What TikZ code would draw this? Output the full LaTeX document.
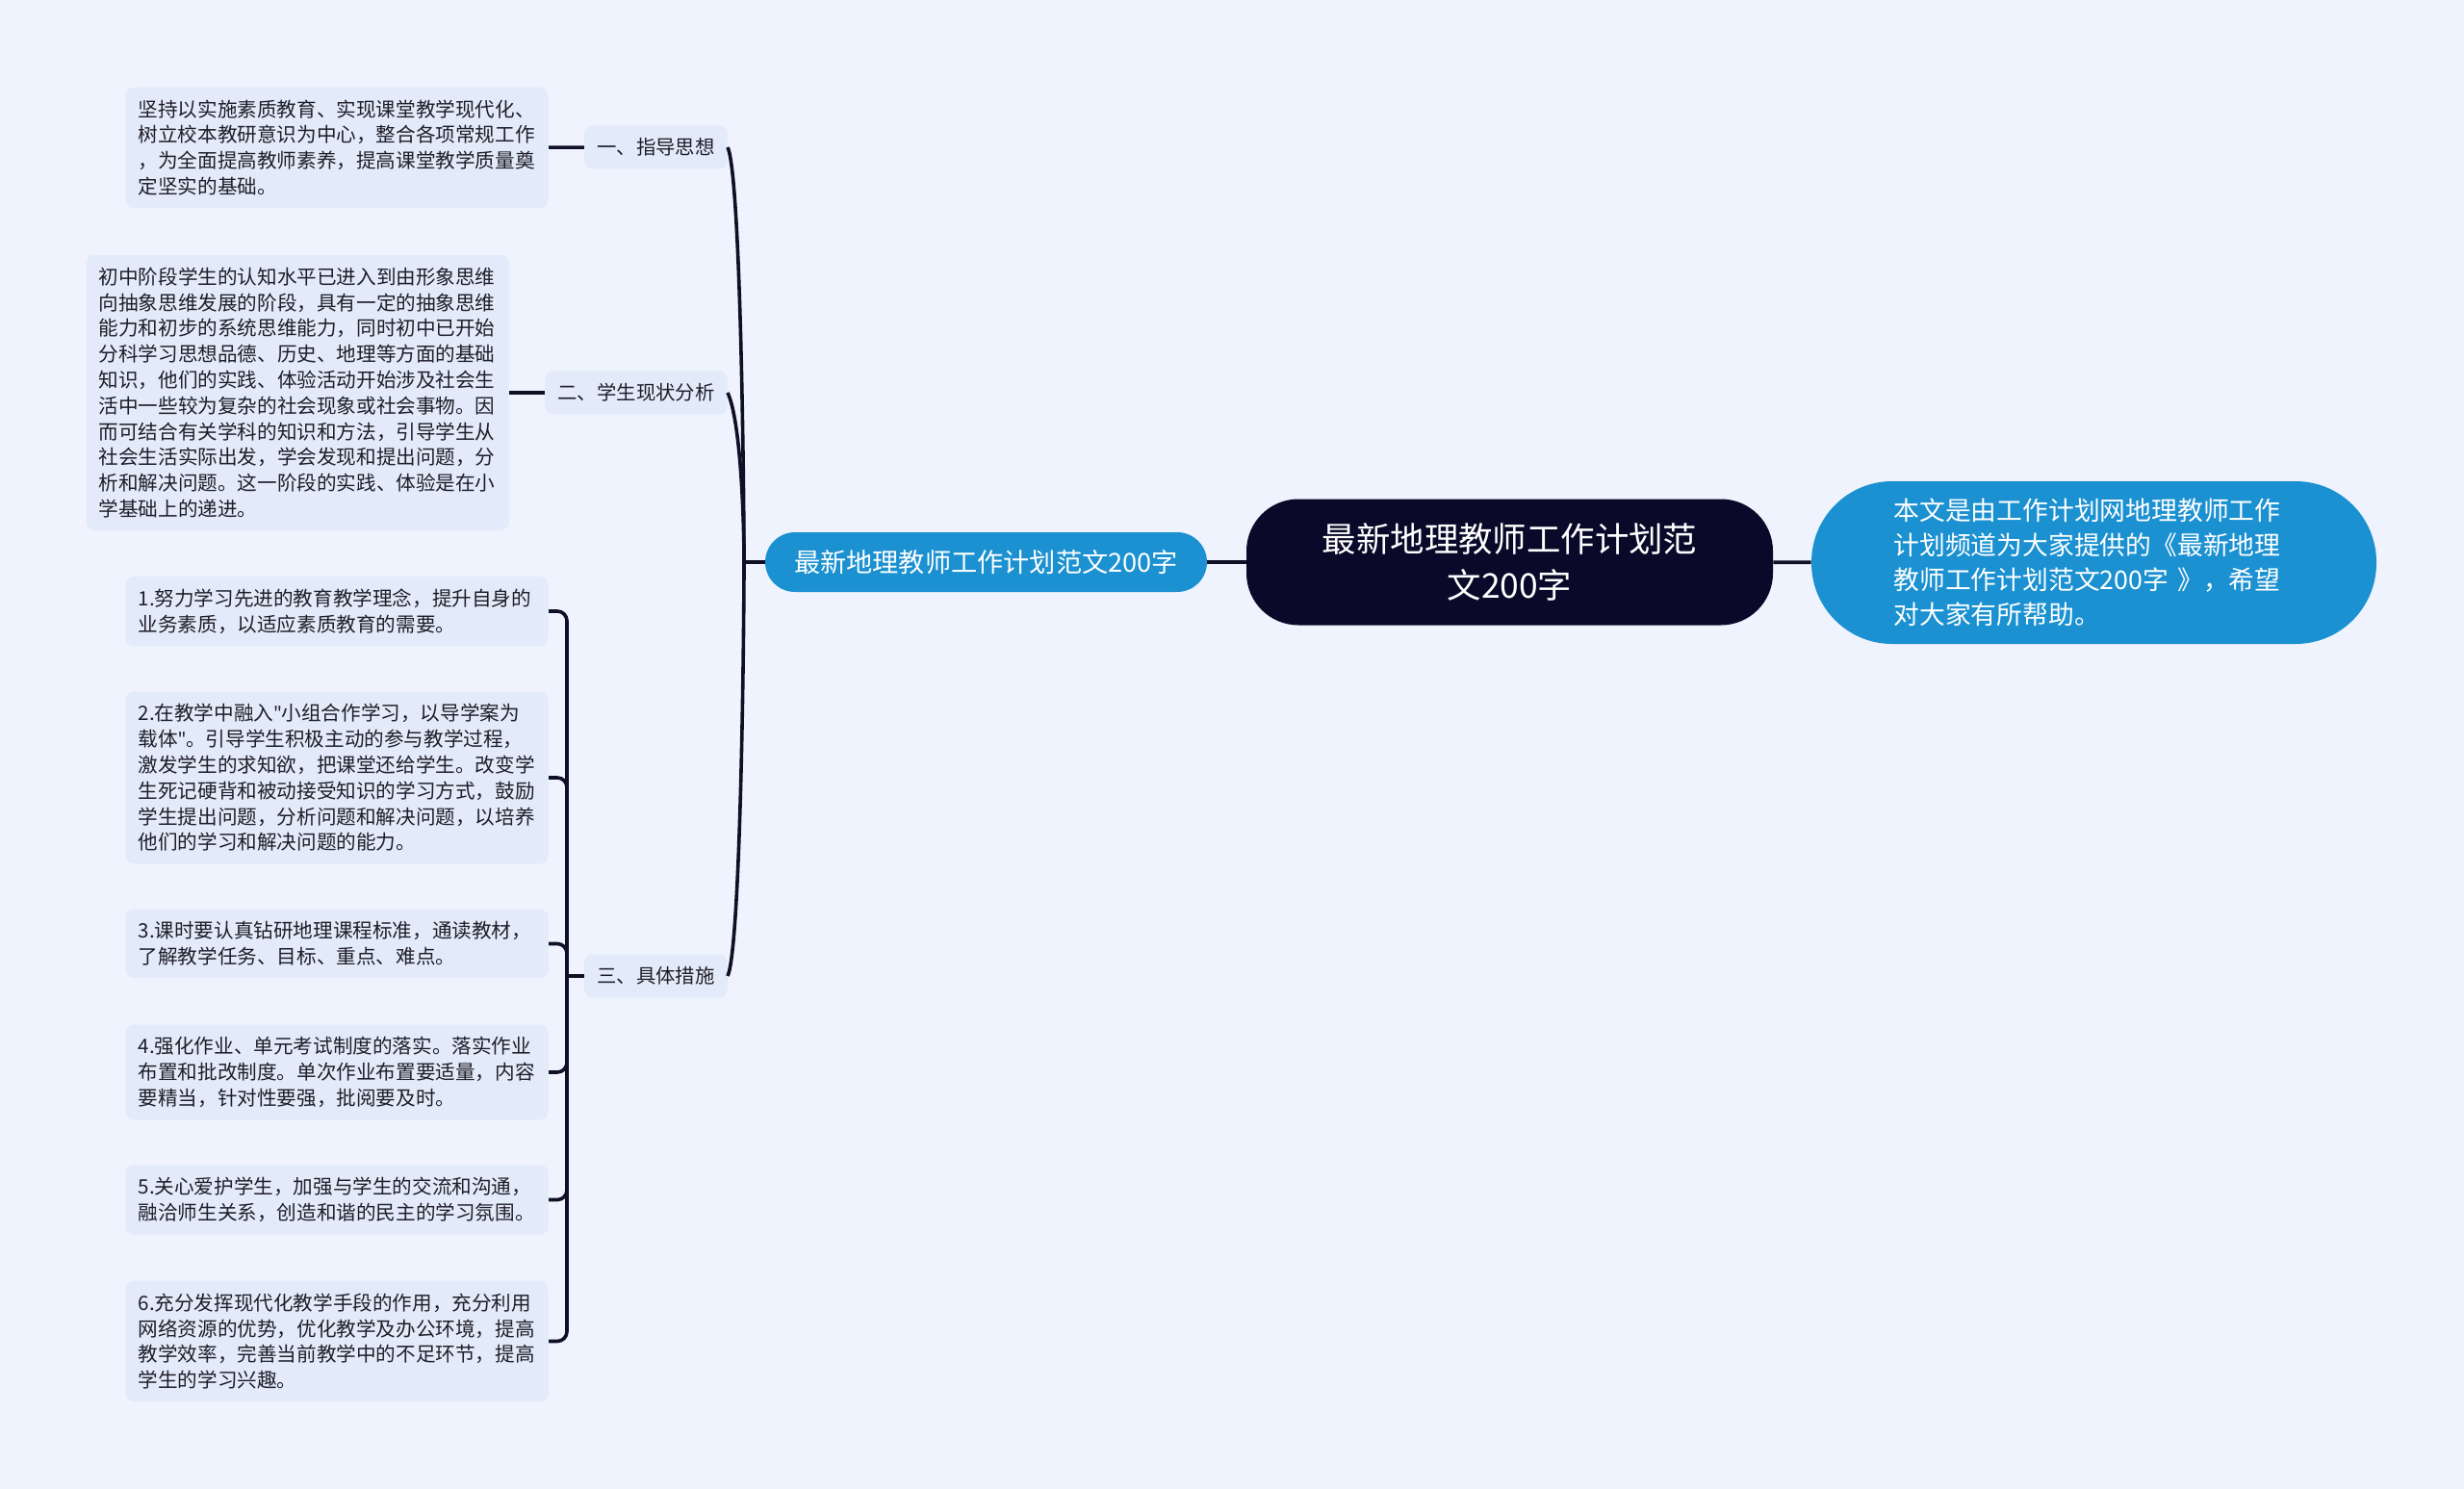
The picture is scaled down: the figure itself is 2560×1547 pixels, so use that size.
\documentclass[tikz,border=0pt]{standalone}
\usepackage{fontspec}
\setmainfont{Noto Sans CJK SC}
\newfontfamily\latinfont{Noto Sans}
\usepackage{tikz}
\usetikzlibrary{positioning}
\usepackage{xcolor}
\definecolor{cBack}{RGB}{238,243,253}
\definecolor{cLeaf}{RGB}{227,235,250}
\definecolor{cNavy}{RGB}{11,9,41}
\definecolor{cBlue}{RGB}{27,145,209}
\definecolor{cLine}{RGB}{16,15,38}
\definecolor{cText}{RGB}{30,30,40}
\newcommand{\dq}{{\latinfont\symbol{34}}}
\tikzset{
  basebox/.style={rectangle,rounded corners=4pt,align=left,inner sep=0pt},
  centernode/.style={basebox,fill=cNavy,text=white,align=center,
                     minimum width=273.5pt,minimum height=65.5pt,rounded corners=27pt,
                     font=\fontsize{17.7}{23.7}\selectfont},
  bluenode/.style={basebox,fill=cBlue,text=white,align=center,
                   minimum width=229.5pt,minimum height=31pt,rounded corners=15.5pt,
                   font=\fontsize{13.6}{16}\selectfont},
  infonode/.style={basebox,fill=cBlue,text=white,text width=208pt,
                   minimum width=293.5pt,minimum height=84.5pt,rounded corners=42pt,
                   inner xsep=42.75pt,font=\fontsize{13.4}{18}\selectfont},
  topicnode/.style={basebox,fill=cLeaf,text=cText,inner xsep=6.5pt,
                    minimum height=22.5pt,font=\fontsize{10.2}{13}\selectfont},
  leafnode/.style={basebox,fill=cLeaf,text=cText,text width=206.5pt,
                   inner xsep=6.5pt,inner ysep=6.4pt,
                   font=\fontsize{10.3}{13.4}\selectfont},
  conn/.style={draw=cLine,line width=1.8pt}
}
\begin{document}
\begin{tikzpicture}[x=0.5pt,y=-0.5pt]
  \fill[cBack] (0,0) rectangle (2560,1547);
  \useasboundingbox (0,0) rectangle (2560,1547);

  \node[centernode] (root) at (1568.5,584) {最新地理教师工作计划范\\文200字};
  \node[infonode] (info) at (2175.5,584.5) {本文是由工作计划网地理教师工作\\计划频道为大家提供的《最新地理\\教师工作计划范文200字 》，希望\\对大家有所帮助。};
  \node[bluenode] (main) at (1024.5,584) {最新地理教师工作计划范文200字};

  \node[topicnode,anchor=east] (t1) at (756,153) {一、指导思想};
  \node[topicnode,anchor=east] (t2) at (756,408) {二、学生现状分析};
  \node[topicnode,anchor=east] (t3) at (756,1014) {三、具体措施};

  \node[leafnode,anchor=east] (a1) at (570,153.5) {坚持以实施素质教育、实现课堂教学现代化、\\树立校本教研意识为中心，整合各项常规工作\\，为全面提高教师素养，提高课堂教学质量奠\\定坚实的基础。};
  \node[leafnode,anchor=east] (b1) at (529,408) {初中阶段学生的认知水平已进入到由形象思维\\向抽象思维发展的阶段，具有一定的抽象思维\\能力和初步的系统思维能力，同时初中已开始\\分科学习思想品德、历史、地理等方面的基础\\知识，他们的实践、体验活动开始涉及社会生\\活中一些较为复杂的社会现象或社会事物。因\\而可结合有关学科的知识和方法，引导学生从\\社会生活实际出发，学会发现和提出问题，分\\析和解决问题。这一阶段的实践、体验是在小\\学基础上的递进。};
  \node[leafnode,anchor=east] (c1) at (570,635) {1.努力学习先进的教育教学理念，提升自身的\\业务素质，以适应素质教育的需要。};
  \node[leafnode,anchor=east] (c2) at (570,808) {2.在教学中融入\dq 小组合作学习，以导学案为\\载体\dq 。引导学生积极主动的参与教学过程，\\激发学生的求知欲，把课堂还给学生。改变学\\生死记硬背和被动接受知识的学习方式，鼓励\\学生提出问题，分析问题和解决问题，以培养\\他们的学习和解决问题的能力。};
  \node[leafnode,anchor=east] (c3) at (570,980.5) {3.课时要认真钻研地理课程标准，通读教材，\\了解教学任务、目标、重点、难点。};
  \node[leafnode,anchor=east] (c4) at (570,1114) {4.强化作业、单元考试制度的落实。落实作业\\布置和批改制度。单次作业布置要适量，内容\\要精当，针对性要强，批阅要及时。};
  \node[leafnode,anchor=east] (c5) at (570,1246.5) {5.关心爱护学生，加强与学生的交流和沟通，\\融洽师生关系，创造和谐的民主的学习氛围。};
  \node[leafnode,anchor=east] (c6) at (570,1393.5) {6.充分发挥现代化教学手段的作用，充分利用\\网络资源的优势，优化教学及办公环境，提高\\教学效率，完善当前教学中的不足环节，提高\\学生的学习兴趣。};

  \coordinate (hub) at (773,584);
  \coordinate (j3) at (589,1014);

  \draw[conn] (root) -- (info);
  \draw[conn] (root) -- (main);
  \draw[conn] (main.west) -- (hub);
  \draw[conn] (hub) .. controls +(0,-60) and +(14,30) .. (t1.east);
  \draw[conn] (hub) .. controls +(0,-40) and +(14,30) .. (t2.east);
  \draw[conn] (hub) .. controls +(0,60) and +(14,-30) .. (t3.east);

  \draw[conn] (a1) -- (t1);
  \draw[conn] (b1) -- (t2);
  \draw[conn] (j3) -- (t3.west);
  \foreach \leaf in {c1,c2,c3,c4,c5,c6}
    \draw[conn,rounded corners=5pt] (\leaf.east) -| (j3);
\end{tikzpicture}
\end{document}
